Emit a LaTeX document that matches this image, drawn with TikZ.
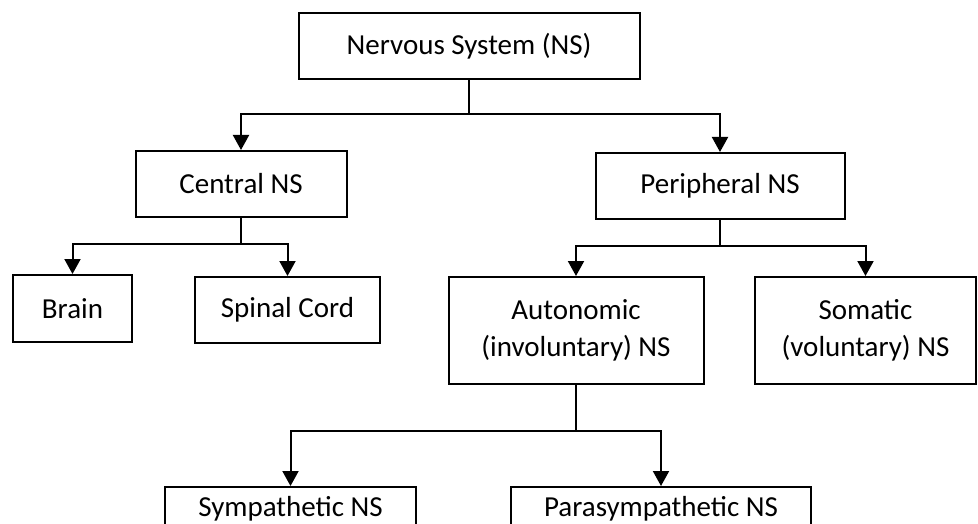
\documentclass[tikz,border=0pt]{standalone}
\usepackage{fontspec}
\setmainfont{Carlito}
\usetikzlibrary{arrows.meta}
\begin{document}
\begin{tikzpicture}[x=1pt,y=-1pt,
  box/.style={draw=black, line width=2pt, rectangle, inner sep=0pt, align=center,
    font=\fontsize{29}{37}\selectfont},
  link/.style={draw=black, line width=2pt},
  arr/.style={link, -{Triangle[width=16pt,length=15pt]}}]
\useasboundingbox (0,0) rectangle (978,524);
\clip (0,0) rectangle (978,524);
\node[box, minimum width=341pt, minimum height=66pt] (ns) at (469,46) {Nervous System (NS)};
\node[box, minimum width=211pt, minimum height=66pt] (cns) at (241,184) {Central NS};
\node[box, minimum width=249pt, minimum height=66pt] (pns) at (720,186) {Peripheral NS};
\node[box, minimum width=119pt, minimum height=67pt] (brain) at (72.5,308.5) {Brain};
\node[box, minimum width=185pt, minimum height=66pt] (spinal) at (287.5,310) {Spinal Cord};
\node[box, minimum width=255pt, minimum height=107pt] (auto) at (576,330.5) {Autonomic\\(involuntary) NS};
\node[box, minimum width=221pt, minimum height=107pt] (soma) at (865.5,330.5) {Somatic\\(voluntary) NS};
\node[box, minimum width=251pt, minimum height=44pt] (sym) at (290.5,509) {Sympathetic NS};
\node[box, minimum width=300pt, minimum height=44pt] (para) at (661,509) {Parasympathetic NS};

\coordinate (j1) at ([yshift=-34pt]ns.south);
\draw[link] (ns.south) -- (j1);
\draw[arr] (j1) -| (cns.north);
\draw[arr] (j1) -| (pns.north);

\coordinate (j2) at ([yshift=-26pt]cns.south);
\draw[link] (cns.south) -- (j2);
\draw[arr] (j2) -| (brain.north);
\draw[arr] (j2) -| (spinal.north);

\coordinate (j3) at ([yshift=-26pt]pns.south);
\draw[link] (pns.south) -- (j3);
\draw[arr] (j3) -| (auto.north);
\draw[arr] (j3) -| (soma.north);

\coordinate (j4) at ([yshift=-46pt]auto.south);
\draw[link] (auto.south) -- (j4);
\draw[arr] (j4) -| (sym.north);
\draw[arr] (j4) -| (para.north);
\end{tikzpicture}
\end{document}
